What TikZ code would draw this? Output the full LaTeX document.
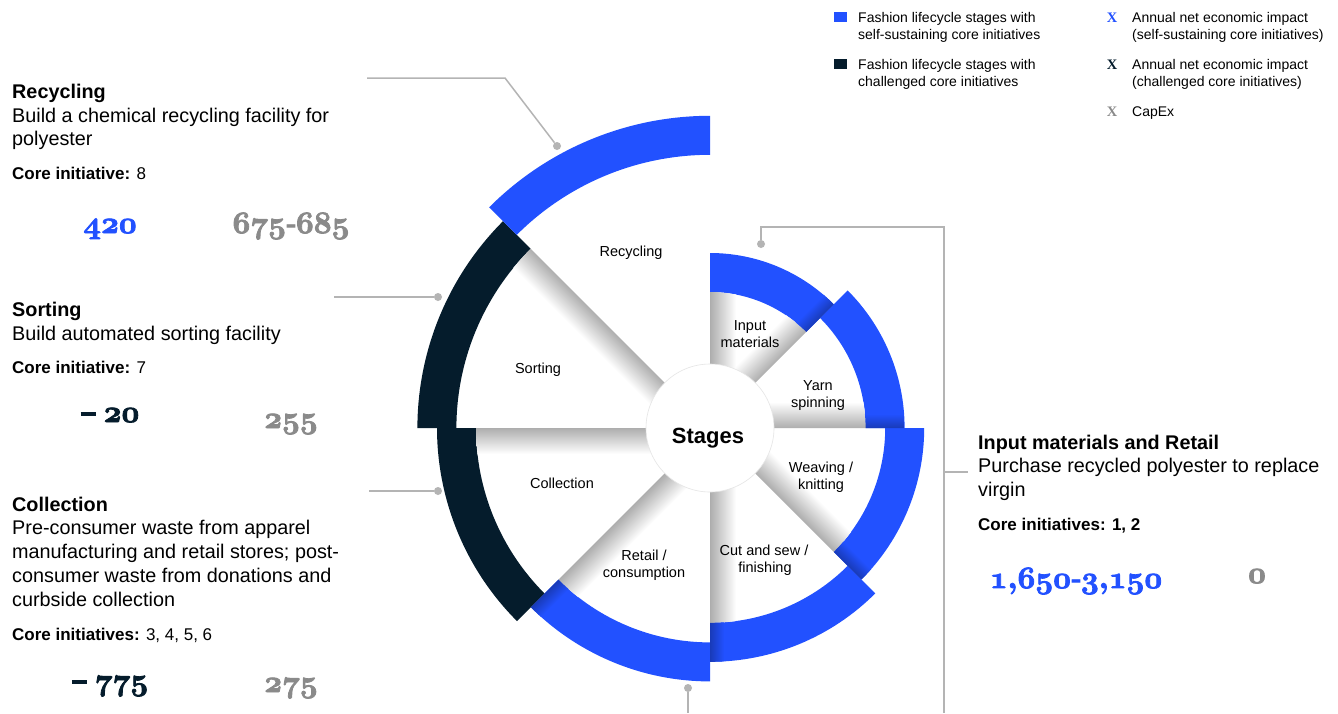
\documentclass[tikz,border=0pt]{standalone}
\usepackage{fontspec}
\setmainfont{Liberation Sans}
\newfontfamily\serifnum{Liberation Serif}
\font\osnum=cmmib10 at 31pt
\definecolor{mblue}{HTML}{2251FF}
\definecolor{mnavy}{HTML}{051C2C}
\definecolor{mgray}{HTML}{8A8A8A}
\definecolor{lgray}{HTML}{B4B4B4}
\newcommand\nhy{{\serifnum\bfseries\fontsize{30}{30}\selectfont -}}
\newcommand\nmin{\rule[6.5pt]{15pt}{3.2pt}\hspace{8pt}}
\newcommand\fb[1]{\special{pdf:literal direct 2 Tr 0.8 w}#1\special{pdf:literal direct 0 Tr 0.4 w}}
\tikzset{
  head/.style={anchor=base west, inner sep=0pt, font=\fontsize{19.8}{24}\selectfont\bfseries},
  body/.style={anchor=base west, inner sep=0pt, font=\fontsize{19.8}{24}\selectfont},
  core/.style={anchor=base west, inner sep=0pt, font=\fontsize{17}{20}\selectfont},
  legtext/.style={anchor=base west, inner sep=0pt, font=\fontsize{14}{17}\selectfont},
  legx/.style={anchor=base, inner sep=0pt, font={\serifnum\bfseries\fontsize{14.5}{17}\selectfont}},
  legsq/.style={minimum width=13pt, minimum height=10pt, inner sep=0pt},
  seclabel/.style={anchor=base, inner sep=0pt, font=\fontsize{14.5}{17}\selectfont},
  num/.style={anchor=base, inner sep=0pt, font=\osnum},
  conn/.style={draw=lgray, line width=1.5pt},
  dot/.style={circle, fill=lgray, inner sep=0pt, minimum size=8pt},
}
\begin{document}
\begin{tikzpicture}[x=1pt,y=1pt]
\useasboundingbox (0,0) rectangle (1338,-713);
\fill[white] (0,0) rectangle (1338,-713);

% ---- wheel bands ----
\begin{scope}[shift={(710,-428)}]
\foreach \k/\col in {0/mblue,1/mblue,2/mblue,3/mblue,4/mblue,5/mnavy,6/mnavy,7/mblue}{
  \pgfmathsetmacro\ta{45-45*\k}
  \pgfmathsetmacro\tb{90-45*\k}
  \pgfmathsetmacro\ro{175+19.6*\k}
  \pgfmathsetmacro\ri{\ro-39}
  \fill[\col] (\ta:\ri) arc[start angle=\ta, end angle=\tb, radius=\ri] -- (\tb:\ro)
     arc[start angle=\tb, end angle=\ta, radius=\ro] -- cycle;
}
\end{scope}

% ---- shadows in white sectors ----
\foreach \k in {0,...,6}{
  \pgfmathsetmacro\ta{45-45*\k}
  \pgfmathsetmacro\ri{136+19.6*\k}
  \begin{scope}[transform canvas={shift={(710,-428)},rotate=\ta}]
    \clip (0,0) -- (\ri,0) arc[start angle=0,end angle=45,radius=\ri] -- cycle;
    \shade[bottom color=black!32, middle color=black!6, top color=white] (0,0) rectangle (\ri,26);
  \end{scope}
}
\begin{scope}[transform canvas={shift={(710,-428)},rotate=90}]
  \clip (0,0) -- (136,0) arc[start angle=0,end angle=-45,radius=136] -- cycle;
  \shade[top color=black!32, middle color=black!6, bottom color=white] (0,-26) rectangle (136,0);
\end{scope}

% ---- darker ends of blue bands ----
\foreach \k in {0,...,4}{
  \pgfmathsetmacro\ta{45-45*\k}
  \pgfmathsetmacro\ro{175+19.6*\k}
  \pgfmathsetmacro\ri{\ro-39}
  \begin{scope}[transform canvas={shift={(710,-428)},rotate=\ta}]
    \clip (\ri,0) arc[start angle=0,end angle=45,radius=\ri] -- (45:\ro)
       arc[start angle=45,end angle=0,radius=\ro] -- cycle;
    \shade[bottom color=mblue!72!black, top color=mblue] ({\ri-5},0) rectangle ({\ro+2},14);
  \end{scope}
}

% ---- centre ----
\node[circle, fill=white, draw=black!10, line width=0.6pt, minimum size=128pt, inner sep=0pt] (hub) at (710,-428) {};
\node[anchor=base, inner sep=0pt, font=\fontsize{22}{26}\selectfont\bfseries] (stages) at (708,-443) {Stages};

% ---- sector labels ----
\node[seclabel] (lRec) at (631,-256) {Recycling};
\node[seclabel] (lSor) at (538,-373) {Sorting};
\node[seclabel] (lCol) at (562,-488) {Collection};
\node[seclabel] (lIn1) at (750,-330) {Input};
\node[seclabel] (lIn2) at (750,-347) {materials};
\node[seclabel] (lYa1) at (818,-390) {Yarn};
\node[seclabel] (lYa2) at (818,-407) {spinning};
\node[seclabel] (lWe1) at (821,-472) {Weaving /};
\node[seclabel] (lWe2) at (821,-489) {knitting};
\node[seclabel] (lCu1) at (764,-555) {Cut and sew /};
\node[seclabel] (lCu2) at (765,-572) {finishing};
\node[seclabel] (lRe1) at (644,-560) {Retail /};
\node[seclabel] (lRe2) at (644,-577) {consumption};

% ---- connectors ----
\coordinate (recL) at (367,-78);
\coordinate (recK) at (505,-78);
\node[dot] (recD) at (557,-146) {};
\draw[conn] (recL) -- (recK) -- (recD);
\coordinate (sorL) at (334,-297);
\node[dot] (sorD) at (438,-297) {};
\draw[conn] (sorL) -- (sorD);
\coordinate (colL) at (369,-491);
\node[dot] (colD) at (438,-491) {};
\draw[conn] (colL) -- (colD);
\node[dot] (inD) at (761,-244) {};
\coordinate (inK1) at (761,-227);
\coordinate (inK2) at (944,-227);
\coordinate (inE) at (944,-713);
\coordinate (inT1) at (944,-472);
\coordinate (inT2) at (968,-472);
\draw[conn] (inD) -- (inK1) -- (inK2) -- (inE);
\draw[conn] (inT1) -- (inT2);
\node[dot] (retD) at (688,-688) {};
\coordinate (retE) at (688,-713);
\draw[conn] (retD) -- (retE);

% ---- Recycling block ----
\node[head] (recH) at (12,-98) {Recycling};
\node[body] (recB1) at (12,-122) {Build a chemical recycling facility for};
\node[body] (recB2) at (12,-145) {polyester};
\node[core] (recC) at (12,-179) {\textbf{Core initiative:} 8};
\node[num, text=mblue] (recN1) at (110,-233) {\fb{420}};
\node[num, text=mgray] (recN2) at (291,-233) {\fb{675\nhy 685}};

% ---- Sorting block ----
\node[head] (sorH) at (12,-316) {Sorting};
\node[body] (sorB1) at (12,-340) {Build automated sorting facility};
\node[core] (sorC) at (12,-373) {\textbf{Core initiative:} 7};
\node[num, text=mnavy] (sorN1) at (110,-422) {\nmin \fb{20}};
\node[num, text=mgray] (sorN2) at (291,-428) {\fb{255}};

% ---- Collection block ----
\node[head] (colH) at (12,-511) {Collection};
\node[body] (colB1) at (12,-534) {Pre-consumer waste from apparel};
\node[body] (colB2) at (12,-558) {manufacturing and retail stores; post-};
\node[body] (colB3) at (12,-582) {consumer waste from donations and};
\node[body] (colB4) at (12,-606) {curbside collection};
\node[core] (colC) at (12,-640) {\textbf{Core initiatives:} 3, 4, 5, 6};
\node[num, text=mnavy] (colN1) at (110,-690) {\nmin \fb{775}};
\node[num, text=mgray] (colN2) at (291,-692) {\fb{275}};

% ---- Input materials and Retail block ----
\node[head] (inH) at (978,-449) {Input materials and Retail};
\node[body] (inB1) at (978,-472) {Purchase recycled polyester to replace};
\node[body] (inB2) at (978,-496) {virgin};
\node[core] (inC) at (978,-530) {\textbf{Core initiatives: 1, 2}};
\node[num, text=mblue] (inN1) at (1076,-588) {\fb{1;650\nhy 3;150}};
\node[num, text=mgray] (inN2) at (1257,-583) {\fb{0}};

% ---- legend ----
\node[legsq, fill=mblue] (legS1) at (840.5,-17) {};
\node[legsq, fill=mnavy] (legS2) at (840.5,-64) {};
\node[legtext] (legT1a) at (858,-22) {Fashion lifecycle stages with};
\node[legtext] (legT1b) at (858,-39) {self-sustaining core initiatives};
\node[legtext] (legT2a) at (858,-69) {Fashion lifecycle stages with};
\node[legtext] (legT2b) at (858,-86) {challenged core initiatives};
\node[legx, text=mblue] (legX1) at (1112,-22) {X};
\node[legx, text=mnavy] (legX2) at (1112,-69) {X};
\node[legx, text=mgray] (legX3) at (1112,-116) {X};
\node[legtext] (legU1a) at (1132,-22) {Annual net economic impact};
\node[legtext] (legU1b) at (1132,-39) {(self-sustaining core initiatives)};
\node[legtext] (legU2a) at (1132,-69) {Annual net economic impact};
\node[legtext] (legU2b) at (1132,-86) {(challenged core initiatives)};
\node[legtext] (legU3) at (1132,-116) {CapEx};
\end{tikzpicture}
\end{document}
